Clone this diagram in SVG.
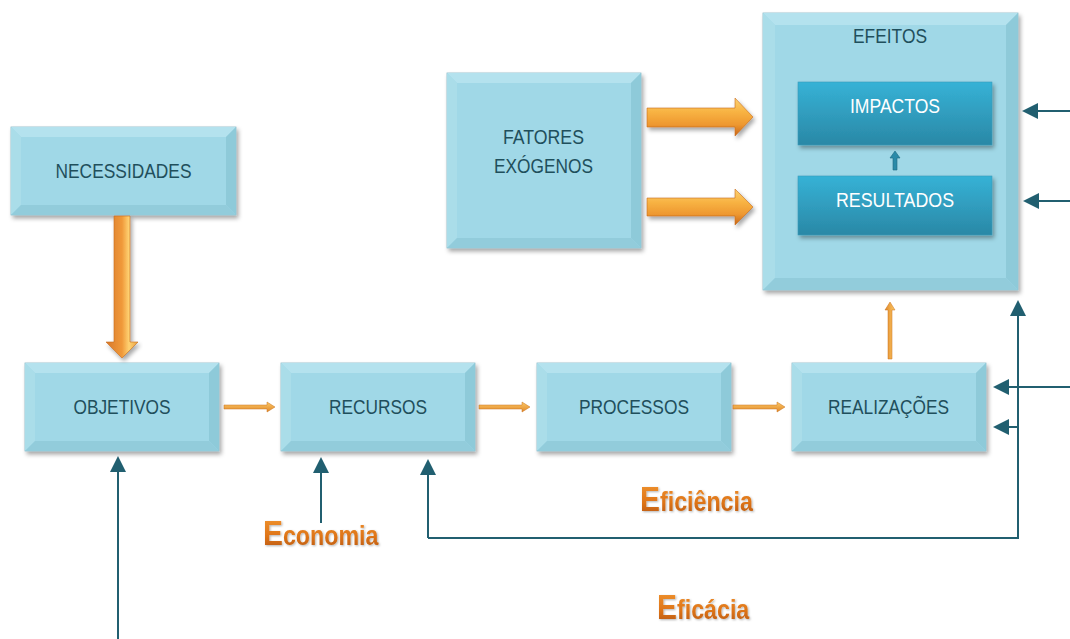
<svg xmlns="http://www.w3.org/2000/svg" width="1070" height="639" viewBox="0 0 1070 639">
<style>
.base{fill:#a0d8e7;stroke:#8ab8c6;stroke-width:0.8}
.bt{fill:#b4e2ee}
.bl{fill:#aadde9}
.br{fill:#8ecad9}
.bb{fill:#92ccdb}
.lbl{font-family:"Liberation Sans",Arial,sans-serif;font-size:21px;fill:#1f4f5c;text-anchor:middle}
.wl{font-family:"Liberation Sans",Arial,sans-serif;font-size:21px;fill:#ffffff;text-anchor:middle}
.inner{fill:url(#gInner);stroke:#3a9ab8;stroke-width:0.6}
.tl{fill:none;stroke:#215f70;stroke-width:2;marker-end:url(#ah)}
.big{font-family:"Liberation Sans",Arial,sans-serif;font-weight:bold;fill:url(#gTxt)}
.oh{fill:url(#gOrH);stroke:#c86c1c;stroke-width:0.6}
.os{fill:url(#gOrS);stroke:#c8731f;stroke-width:0.5}
</style>
<defs>
<filter id="sh" x="-10%" y="-10%" width="125%" height="130%">
<feDropShadow dx="2" dy="3" stdDeviation="2" flood-color="#000" flood-opacity="0.35"/>
</filter>
<filter id="tsh" x="-10%" y="-10%" width="120%" height="130%">
<feDropShadow dx="1" dy="1" stdDeviation="0.8" flood-color="#000" flood-opacity="0.3"/>
</filter>
<linearGradient id="gInner" x1="0" y1="0" x2="0" y2="1">
<stop offset="0" stop-color="#36b2d6"/>
<stop offset="1" stop-color="#2a88a6"/>
</linearGradient>
<linearGradient id="gTxt" x1="0" y1="0" x2="0" y2="1">
<stop offset="0" stop-color="#f39a35"/>
<stop offset="0.6" stop-color="#de7418"/>
<stop offset="1" stop-color="#b0540c"/>
</linearGradient>
<linearGradient id="gOrH" x1="0" y1="0" x2="0" y2="1">
<stop offset="0" stop-color="#fbd172"/>
<stop offset="0.35" stop-color="#f8b444"/>
<stop offset="0.7" stop-color="#ee9830"/>
<stop offset="1" stop-color="#c8661a"/>
</linearGradient>
<linearGradient id="gOrV" x1="0" y1="0" x2="1" y2="0">
<stop offset="0" stop-color="#d8782a"/>
<stop offset="0.5" stop-color="#f0993a"/>
<stop offset="0.72" stop-color="#ffd272"/>
<stop offset="1" stop-color="#e8a040"/>
</linearGradient>
<linearGradient id="gOrS" x1="0" y1="0" x2="0" y2="1">
<stop offset="0" stop-color="#fcc865"/>
<stop offset="1" stop-color="#e0882a"/>
</linearGradient>
<linearGradient id="gOrSV" x1="0" y1="0" x2="1" y2="0">
<stop offset="0" stop-color="#e0882a"/>
<stop offset="1" stop-color="#fcc865"/>
</linearGradient>
<marker id="ah" viewBox="0 0 16 16" refX="14" refY="8" markerWidth="16" markerHeight="16" markerUnits="userSpaceOnUse" orient="auto">
<path d="M0,0 L16,8 L0,16 z" fill="#215f70"/>
</marker>
</defs>

<rect x="0" y="0" width="1070" height="639" fill="#ffffff"/>

<g id="necessidades" transform="translate(11,127)">
<rect class="base" width="225" height="88" filter="url(#sh)"/>
<polygon class="bt" points="0,0 225,0 215,10 10,10"/>
<polygon class="bl" points="0,0 10,10 10,78 0,88"/>
<polygon class="br" points="225,0 225,88 215,78 215,10"/>
<polygon class="bb" points="0,88 10,78 215,78 225,88"/>
<text class="lbl" x="112.5" y="51" textLength="136" lengthAdjust="spacingAndGlyphs">NECESSIDADES</text>
</g>

<g id="objetivos" transform="translate(25,363)">
<rect class="base" width="194" height="88" filter="url(#sh)"/>
<polygon class="bt" points="0,0 194,0 184,10 10,10"/>
<polygon class="bl" points="0,0 10,10 10,78 0,88"/>
<polygon class="br" points="194,0 194,88 184,78 184,10"/>
<polygon class="bb" points="0,88 10,78 184,78 194,88"/>
<text class="lbl" x="97" y="51" textLength="97" lengthAdjust="spacingAndGlyphs">OBJETIVOS</text>
</g>

<g id="recursos" transform="translate(281,363)">
<rect class="base" width="194" height="88" filter="url(#sh)"/>
<polygon class="bt" points="0,0 194,0 184,10 10,10"/>
<polygon class="bl" points="0,0 10,10 10,78 0,88"/>
<polygon class="br" points="194,0 194,88 184,78 184,10"/>
<polygon class="bb" points="0,88 10,78 184,78 194,88"/>
<text class="lbl" x="97" y="51" textLength="98" lengthAdjust="spacingAndGlyphs">RECURSOS</text>
</g>

<g id="processos" transform="translate(537,363)">
<rect class="base" width="194" height="88" filter="url(#sh)"/>
<polygon class="bt" points="0,0 194,0 184,10 10,10"/>
<polygon class="bl" points="0,0 10,10 10,78 0,88"/>
<polygon class="br" points="194,0 194,88 184,78 184,10"/>
<polygon class="bb" points="0,88 10,78 184,78 194,88"/>
<text class="lbl" x="97" y="51" textLength="110" lengthAdjust="spacingAndGlyphs">PROCESSOS</text>
</g>

<g id="realizacoes" transform="translate(792,363)">
<rect class="base" width="194" height="88" filter="url(#sh)"/>
<polygon class="bt" points="0,0 194,0 184,10 10,10"/>
<polygon class="bl" points="0,0 10,10 10,78 0,88"/>
<polygon class="br" points="194,0 194,88 184,78 184,10"/>
<polygon class="bb" points="0,88 10,78 184,78 194,88"/>
<text class="lbl" x="96.5" y="51" textLength="121" lengthAdjust="spacingAndGlyphs">REALIZAÇÕES</text>
</g>

<g id="fatores" transform="translate(447,73)">
<rect class="base" width="194" height="175" filter="url(#sh)"/>
<polygon class="bt" points="0,0 194,0 184,10 10,10"/>
<polygon class="bl" points="0,0 10,10 10,165 0,175"/>
<polygon class="br" points="194,0 194,175 184,165 184,10"/>
<polygon class="bb" points="0,175 10,165 184,165 194,175"/>
<text class="lbl" x="96.5" y="71" textLength="81" lengthAdjust="spacingAndGlyphs">FATORES</text>
<text class="lbl" x="96.5" y="100" textLength="99" lengthAdjust="spacingAndGlyphs">EXÓGENOS</text>
</g>

<g id="efeitos" transform="translate(763,13)">
<rect class="base" width="255" height="277" filter="url(#sh)"/>
<polygon class="bt" points="0,0 255,0 243,12 12,12"/>
<polygon class="bl" points="0,0 12,12 12,265 0,277"/>
<polygon class="br" points="255,0 255,277 243,265 243,12"/>
<polygon class="bb" points="0,277 12,265 243,265 255,277"/>
<text class="lbl" x="127" y="30" textLength="74" lengthAdjust="spacingAndGlyphs">EFEITOS</text>
</g>

<g id="impactos" transform="translate(798,82)">
<rect class="inner" width="194" height="63" filter="url(#sh)"/>
<text class="wl" x="97" y="31" textLength="90" lengthAdjust="spacingAndGlyphs">IMPACTOS</text>
</g>

<g id="resultados" transform="translate(798,176)">
<rect class="inner" width="194" height="59" filter="url(#sh)"/>
<text class="wl" x="97" y="31" textLength="118" lengthAdjust="spacingAndGlyphs">RESULTADOS</text>
</g>

<g id="connectors">
<polygon points="114,216 130,216 130,342 138,342 122,358 106,342 114,342" fill="url(#gOrV)" stroke="#c86c1c" stroke-width="0.6" filter="url(#sh)"/>
<polygon class="oh" points="647,108 735,108 735,98 753,117 735,136 735,127 647,127" filter="url(#sh)"/>
<polygon class="oh" points="647,198 735,198 735,189 753,207 735,225 735,216 647,216" filter="url(#sh)"/>
<polygon class="os" points="224,405 267,405 267,402 275,407 267,412 267,409 224,409"/>
<polygon class="os" points="479,405 522,405 522,402 530,407 522,412 522,409 479,409"/>
<polygon class="os" points="733,405 777,405 777,402 785,407 777,412 777,409 733,409"/>
<polygon points="888,359 888,310 885,310 890,302 895,310 892,310 892,359" fill="url(#gOrSV)" stroke="#c8731f" stroke-width="0.5"/>
<polygon points="893,170 893,158 890,158 895,151 900,158 897,158 897,170" fill="#2a8aa8" stroke="#1f6a80" stroke-width="0.6"/>
<path class="tl" d="M118,639 L118,458"/>
<path class="tl" d="M321,523 L321,459"/>
<path class="tl" d="M428,538 L428,461"/>
<path class="tl" d="M428,538 L1018,538 L1018,302"/>
<path class="tl" d="M1070,111 L1024,111"/>
<path class="tl" d="M1070,201 L1025,201"/>
<path class="tl" d="M1070,387 L995,387"/>
<path class="tl" d="M1018,427 L995,427"/>
</g>

<g id="labels" filter="url(#tsh)">
<text class="big" transform="translate(263,545) scale(0.83,1)"><tspan font-size="36">E</tspan><tspan font-size="28">conomia</tspan></text>
<text class="big" transform="translate(640,511) scale(0.83,1)"><tspan font-size="36">E</tspan><tspan font-size="28">ficiência</tspan></text>
<text class="big" transform="translate(657,619) scale(0.83,1)"><tspan font-size="36">E</tspan><tspan font-size="28">ficácia</tspan></text>
</g>
</svg>
